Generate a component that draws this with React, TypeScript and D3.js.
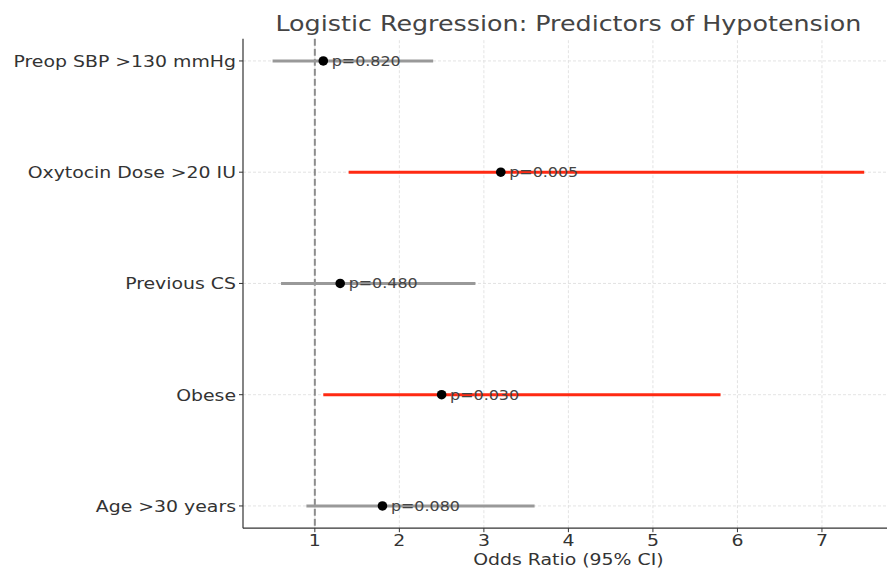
import React, { useEffect, useRef } from 'react';
import * as d3 from 'd3';

// bottom to top, as drawn
const predictors = ['Age >30 years', 'Obese', 'Previous CS', 'Oxytocin Dose >20 IU', 'Preop SBP >130 mmHg'];
const oddsRatios = [1.8, 2.5, 1.3, 3.2, 1.1];
const ciLower = [0.9, 1.1, 0.6, 1.4, 0.5];
const ciUpper = [3.6, 5.8, 2.9, 7.5, 2.4];
const pValues = [0.08, 0.03, 0.48, 0.005, 0.82];
const xTicks = [1, 2, 3, 4, 5, 6, 7];

const W = 887;
const H = 569;
const FONT = 'DejaVu Sans, sans-serif';
const STRETCH = 1.18; // the reference text is a little wider than DejaVu

const App = () => {
  const svgRef = useRef<SVGSVGElement>(null);

  useEffect(() => {
    const svg = d3.select(svgRef.current);
    svg.selectAll('*').remove();

    const margin = { top: 38.7, right: -6.8, bottom: 40.8, left: 243 };
    const x = d3.scaleLinear().domain([0.15, 7.85]).range([margin.left, W - margin.right]);
    const y = d3.scaleLinear().domain([-0.2, 4.2]).range([H - margin.bottom, margin.top]);

    const g = svg.append('g');

    const label = (parent: any, tx: number, ty: number, txt: string, size: number, anchor: string, fill: string) =>
      parent.append('text')
        .attr('transform', `translate(${tx},${ty}) scale(${STRETCH},1)`)
        .attr('text-anchor', anchor)
        .style('font-family', FONT).style('font-size', `${size}px`).style('fill', fill)
        .text(txt);

    // grid
    g.selectAll('.vgrid').data(xTicks).enter().append('line')
      .attr('x1', d => x(d)).attr('x2', d => x(d))
      .attr('y1', y(-0.2)).attr('y2', y(4.2))
      .style('stroke', '#dcdcdc').style('stroke-width', 0.8).style('stroke-dasharray', '3,2');
    g.selectAll('.hgrid').data(predictors).enter().append('line')
      .attr('x1', x(0.15)).attr('x2', x(7.85))
      .attr('y1', (_, i) => y(i)).attr('y2', (_, i) => y(i))
      .style('stroke', '#dcdcdc').style('stroke-width', 0.8).style('stroke-dasharray', '3,2');

    // reference line at OR = 1
    g.append('line')
      .attr('x1', x(1)).attr('x2', x(1))
      .attr('y1', y(4.2)).attr('y2', y(-0.2))
      .style('stroke', '#8c8c8c').style('stroke-width', 2).style('stroke-dasharray', '7,3');

    // CI lines
    g.selectAll('.ci').data(predictors).enter().append('line')
      .attr('x1', (_, i) => x(ciLower[i])).attr('x2', (_, i) => x(ciUpper[i]))
      .attr('y1', (_, i) => y(i)).attr('y2', (_, i) => y(i))
      .style('stroke', (_, i) => (pValues[i] < 0.05 ? '#ff2a12' : '#999999'))
      .style('stroke-width', 3);

    // points
    g.selectAll('.pt').data(predictors).enter().append('circle')
      .attr('cx', (_, i) => x(oddsRatios[i])).attr('cy', (_, i) => y(i))
      .attr('r', 4.8).style('fill', '#000');

    // p labels
    predictors.forEach((_, i) => {
      label(g, x(oddsRatios[i] + 0.1), y(i) + 5, `p=${pValues[i].toFixed(3)}`, 13.5, 'start', '#444');
    });

    // spines
    g.append('line').attr('x1', margin.left).attr('x2', margin.left)
      .attr('y1', y(4.2)).attr('y2', y(-0.2)).style('stroke', '#333').style('stroke-width', 1.2);
    g.append('line').attr('x1', margin.left).attr('x2', W)
      .attr('y1', y(-0.2)).attr('y2', y(-0.2)).style('stroke', '#333').style('stroke-width', 1.2);

    // x ticks
    xTicks.forEach(d => {
      g.append('line').attr('x1', x(d)).attr('x2', x(d))
        .attr('y1', y(-0.2)).attr('y2', y(-0.2) + 4).style('stroke', '#333').style('stroke-width', 1);
      label(g, x(d), y(-0.2) + 17.7, String(d), 16, 'middle', '#333');
    });

    // y ticks
    predictors.forEach((d, i) => {
      g.append('line').attr('x1', margin.left - 4).attr('x2', margin.left)
        .attr('y1', y(i)).attr('y2', y(i)).style('stroke', '#333').style('stroke-width', 1);
      label(g, margin.left - 7, y(i) + 5.8, d, 16, 'end', '#333');
    });

    const cx = (x(0.15) + x(7.85)) / 2;
    // axis label
    label(svg, cx, 565, 'Odds Ratio (95% CI)', 16, 'middle', '#333');
    // title
    label(svg, cx, 30.7, 'Logistic Regression: Predictors of Hypotension', 21.5, 'middle', '#444');
  }, []);

  return (
    <div style={{ position: 'fixed', left: 0, top: 0, width: W, height: H, background: '#fff' }}>
      <svg ref={svgRef} width={W} height={H} style={{ display: 'block' }} />
    </div>
  );
};

export default App;
